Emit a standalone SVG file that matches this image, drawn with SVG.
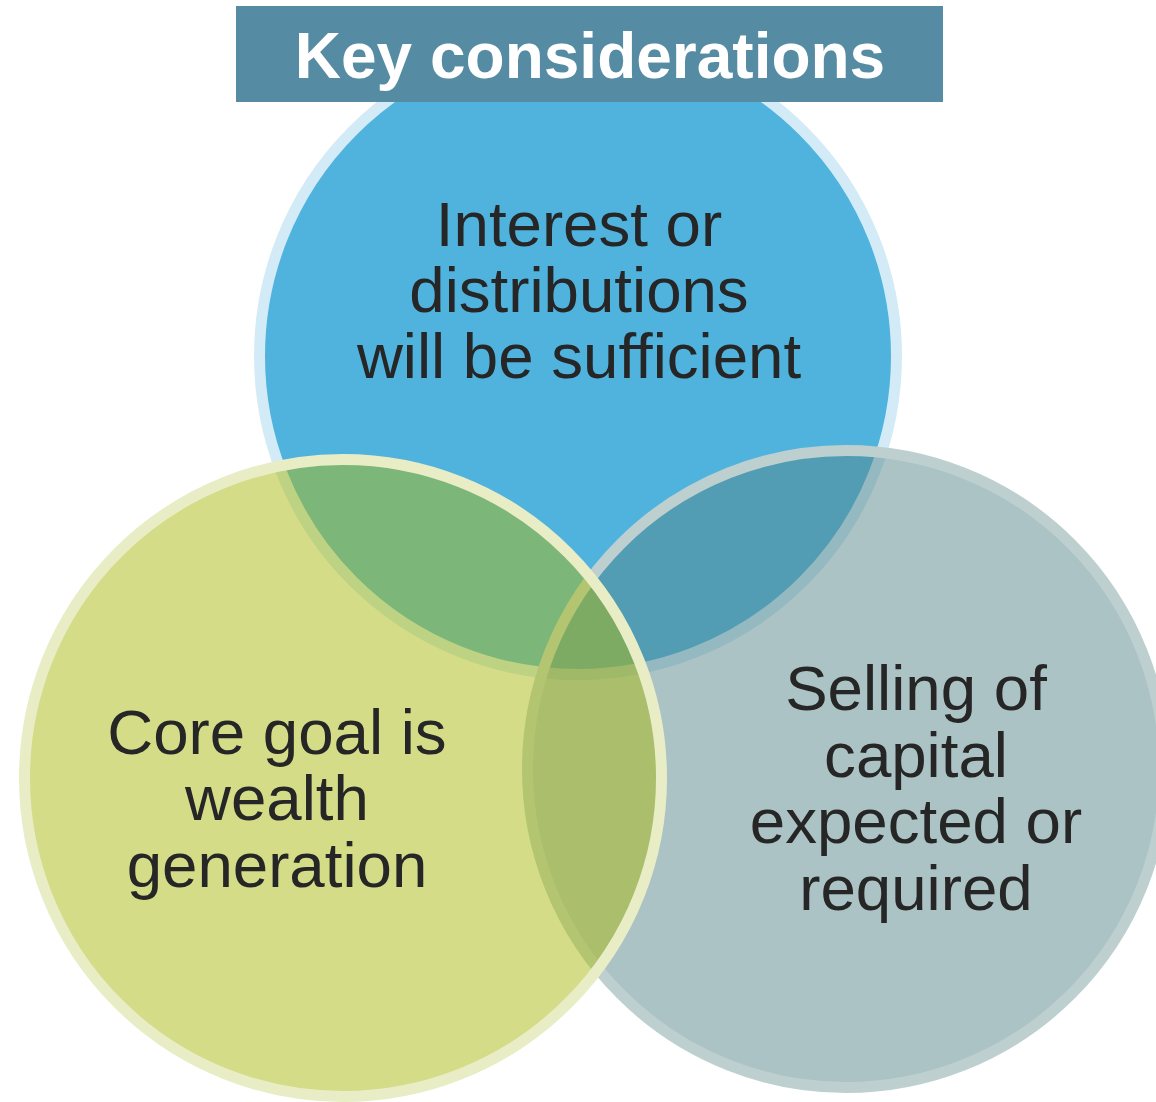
<svg xmlns="http://www.w3.org/2000/svg" width="1156" height="1102" viewBox="0 0 1156 1102">
  <style>
    .ring { stroke-width: 11; }
    .label { font-family: "Liberation Sans", Arial, sans-serif; font-size: 63.6px; fill: #262626; text-anchor: middle; }
    .title { font-family: "Liberation Sans", Arial, sans-serif; font-size: 64px; font-weight: bold; fill: #ffffff; text-anchor: middle; }
  </style>
  <rect x="0" y="0" width="1156" height="1102" fill="#ffffff"/>

  <!-- Top circle: income -->
  <g id="node-income">
    <circle class="ring" cx="578" cy="356" r="318.5" fill="#4fb3de" stroke="#d3ebf6"/>
  </g>

  <!-- Right circle: selling capital (half-transparent fill, solid pale ring) -->
  <g id="node-selling">
    <circle class="ring" cx="846" cy="769" r="318.5" fill="#578789" fill-opacity="0.5" stroke="#bdd0cf"/>
  </g>

  <!-- Left circle: wealth generation -->
  <g id="node-wealth">
    <circle class="ring" cx="343" cy="778" r="318.5" fill="#aaba12" fill-opacity="0.5" stroke="#e9edc6"/>
  </g>

  <!-- Circle labels -->
  <g id="labels">
    <text class="label" x="579" y="246">Interest or</text>
    <text class="label" x="579" y="312">distributions</text>
    <text class="label" x="579" y="378">will be sufficient</text>

    <text class="label" x="277" y="754">Core goal is</text>
    <text class="label" x="277" y="820">wealth</text>
    <text class="label" x="277" y="887">generation</text>

    <text class="label" x="916" y="710">Selling of</text>
    <text class="label" x="916" y="777">capital</text>
    <text class="label" x="916" y="843">expected or</text>
    <text class="label" x="916" y="910">required</text>
  </g>

  <g id="connectors"></g>

  <!-- Heading banner -->
  <g id="title">
    <rect x="236" y="6" width="707" height="96" fill="#568ca3"/>
    <text class="title" x="590" y="78">Key considerations</text>
  </g>
</svg>
